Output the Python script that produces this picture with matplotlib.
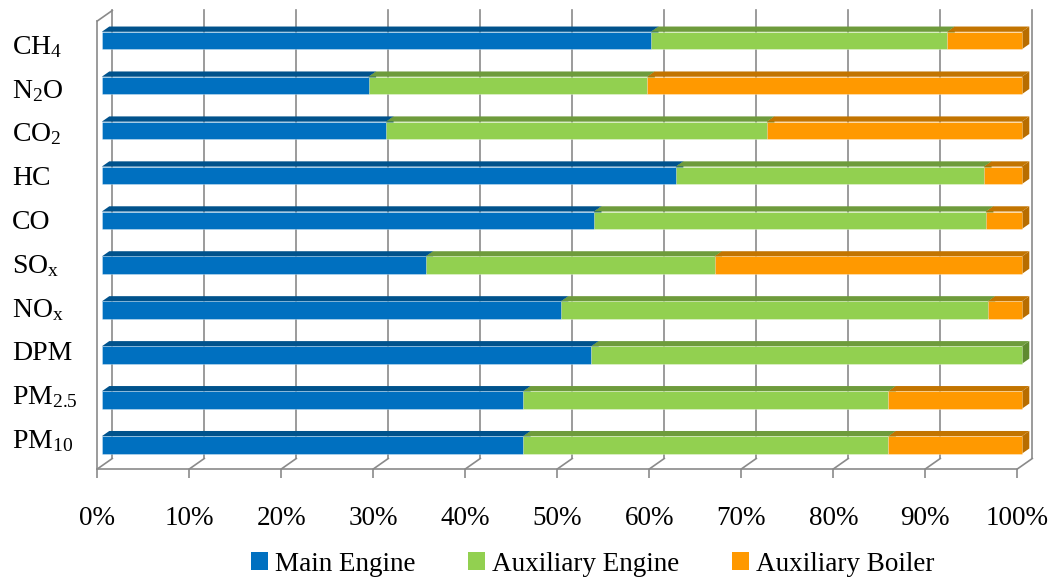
import numpy as np
import matplotlib
matplotlib.use('Agg')
import matplotlib.pyplot as plt
from matplotlib.patches import Polygon, Patch

plt.rcParams['font.family'] = 'Liberation Serif'
plt.rcParams['mathtext.fontset'] = 'custom'
plt.rcParams['mathtext.rm'] = 'Liberation Serif'
plt.rcParams['mathtext.default'] = 'regular'

# share of emissions by source (%), bottom to top
pollutants = ['PM$_{10}$', 'PM$_{2.5}$', 'DPM', 'NO$_x$', 'SO$_x$',
              'CO', 'HC', 'CO$_2$', 'N$_2$O', 'CH$_4$']
main_engine = [45.8, 45.8, 53.2, 49.9, 35.2, 53.5, 62.4, 30.9, 29.0, 59.7]
aux_engine = [39.7, 39.7, 46.8, 46.4, 31.4, 42.6, 33.5, 41.4, 30.3, 32.2]
aux_boiler = [14.5, 14.5, 0.0, 3.7, 33.4, 3.9, 4.1, 27.7, 40.7, 8.1]
series_names = ['Main Engine', 'Auxiliary Engine', 'Auxiliary Boiler']
x_ticks = np.arange(0, 101, 10)

# front, top and end colours of each series
front_colors = ['#0070c0', '#92d050', '#ff9900']
top_colors = ['#00528c', '#6e9b3c', '#c27400']
side_colors = ['#004c80', '#5f8a30', '#b86d00']
gray = '#8a8a8a'

fig = plt.figure(figsize=(10.53, 5.78), dpi=100)
ax = fig.add_axes([97.3 / 1053, 109 / 578, 920 / 1053, 448 / 578])
y_lo, y_hi = -0.534, 9.435
ax.set_xlim(0, 100)
ax.set_ylim(y_lo, y_hi)

# oblique depth of the box (data units)
dx, dy = 1.63, 0.234
z0, z1 = 0.3, 0.8     # bar front / back depth
h = 0.39              # bar face height

# back wall gridlines and floor diagonals
for v in x_ticks:
    ax.plot([v + dx, v + dx], [y_lo + dy, y_hi + dy], color=gray, lw=1.2,
            clip_on=False, zorder=1)
    ax.plot([v, v + dx], [y_lo, y_lo + dy], color=gray, lw=1.2,
            clip_on=False, zorder=1)
ax.plot([0, dx], [y_hi, y_hi + dy], color=gray, lw=1.2, clip_on=False, zorder=1)

series = [main_engine, aux_engine, aux_boiler]
fx, bx = z0 * dx, z1 * dx
ddy = (z1 - z0) * dy
for i in range(len(pollutants)):
    c = i
    left = 0.0
    for k, vals in enumerate(series):
        w = vals[i]
        if w <= 0:
            continue
        x0, x1 = left, left + w
        lo, hi = c - h / 2, c + h / 2
        front = [(x0 + fx, lo), (x1 + fx, lo), (x1 + fx, hi), (x0 + fx, hi)]
        top = [(x0 + fx, hi), (x1 + fx, hi), (x1 + bx, hi + ddy), (x0 + bx, hi + ddy)]
        side = [(x1 + fx, lo), (x1 + bx, lo + ddy), (x1 + bx, hi + ddy), (x1 + fx, hi)]
        ax.add_patch(Polygon(side, closed=True, fc=side_colors[k], ec='none',
                             clip_on=False, zorder=3))
        ax.add_patch(Polygon(top, closed=True, fc=top_colors[k], ec='none',
                             clip_on=False, zorder=3))
        ax.add_patch(Polygon(front, closed=True, fc=front_colors[k],
                             ec=(1, 1, 1, 0.35), lw=0.6, clip_on=False, zorder=3))
        left = x1

# category labels
label_pos = 0.156 + 0.974 * np.arange(len(pollutants))
ax.set_yticks(label_pos, pollutants)
ax.tick_params(axis='y', length=0, pad=61.4, labelsize=20)
for lab in ax.get_yticklabels():
    lab.set_horizontalalignment('left')

ax.set_xticks(x_ticks, [f'{v}%' for v in x_ticks])
ax.tick_params(axis='x', length=6.5, width=1.2, color=gray, pad=20, labelsize=19.5)

for s in ['top', 'right']:
    ax.spines[s].set_visible(False)
for s in ['left', 'bottom']:
    ax.spines[s].set_color(gray)
    ax.spines[s].set_linewidth(1.2)

handles = [Patch(fc=front_colors[k], ec='none') for k in range(3)]
fig.legend(handles, series_names, loc='center', bbox_to_anchor=(0.563, 0.024),
           ncol=3, frameon=False, fontsize=19.5, handlelength=0.62,
           handleheight=0.62, handletextpad=0.27, columnspacing=1.95)

fig.savefig('out.png', dpi=100)
